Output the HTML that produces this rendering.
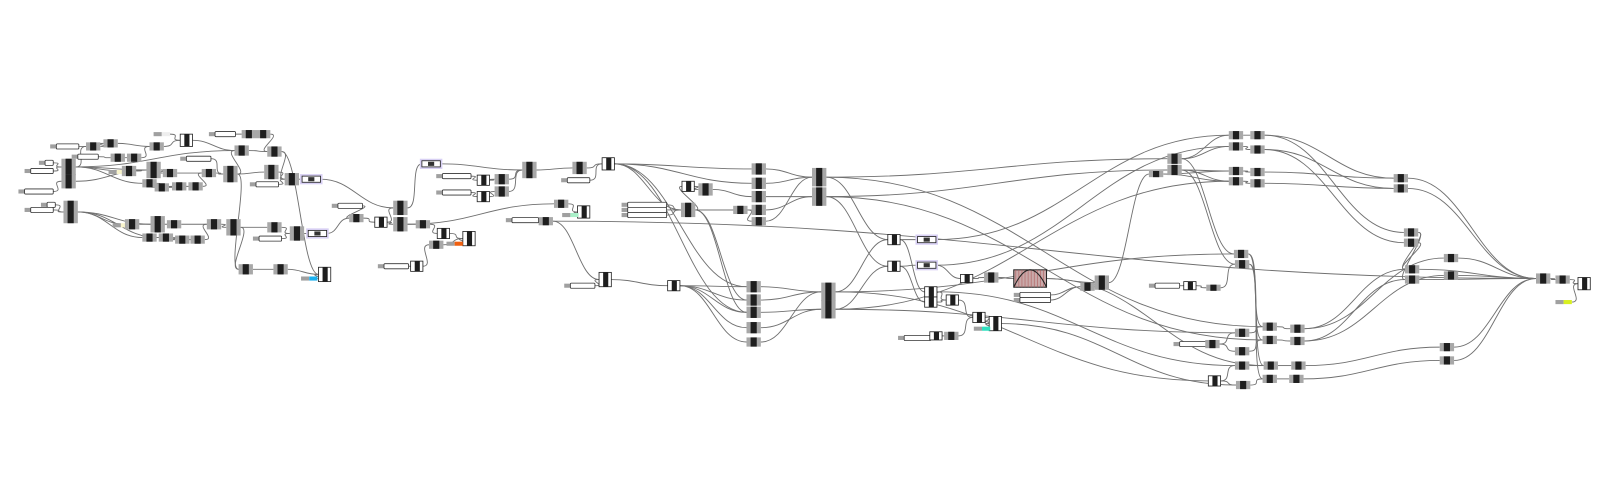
<!DOCTYPE html>
<html><head><meta charset="utf-8"><style>
html,body{margin:0;padding:0;background:#fff;width:1604px;height:501px;overflow:hidden;font-family:"Liberation Sans",sans-serif}
svg{display:block}
</style></head><body>
<svg id="g" width="1604" height="501" viewBox="0 0 1604 501" xmlns="http://www.w3.org/2000/svg">
<g transform="scale(1.024)">
<g id="wires" fill="none" stroke="#707070" stroke-width="0.9"></g>
<g id="nodes"></g>
</g>
</svg>
<script>
// nodes: [id, x(left), y(center), kind, height, extra]
const nodeList = [
["a0",150,131,"k",4,"#eeeeee"],["a1",49,143,"s",4,22],["a2",84,143,"c",8],["a3",101,140,"c",8],["a4",146,143,"c",8],["a5",176,137,"w",12],
["b1",70,153,"s",4,20],["b2",108,154,"c",8],["b3",124,154,"c",8],
["c0",38,159,"s",4,8],["c1",60,163,"c",16],["c2",60,177,"c",14],
["d1",24,167,"s",4,22],["dy",106,168,"k",4,"#f8f4cc"],["d2",119,167,"c",10],["d3",143,166,"c",16],["d4",159,169,"c",8],
["e1",139,179,"c",8],["e2",151,183,"c",8],["e3",168,182,"c",8],["e4",184,182,"c",8],["e5",18,187,"s",4,28],
["f1",197,169,"c",8],["f2",218,170,"c",16],["f3",258,168,"c",14],["f4",278,175,"c",12],["f5",295,175,"p",6],
["f6",176,155,"s",4,24],["f7",244,180,"s",4,22],
["t1",204,131,"s",4,20],["t2",236,131,"c",8],["t3",250,131,"c",8],["t6",229,147,"c",10],["t7",261,148,"c",10],
["g0",40,200,"s",4,8],["g1",24,205,"s",4,22],["g2",62,207,"c",22],
["gy",110,220,"k",4,"#f8f4cc"],["h1",122,219,"c",10],["h2",147,219,"c",16],["h3",163,219,"c",8],
["h4",139,232,"c",8],["h5",155,232,"c",8],["h6",171,234,"c",8],["h7",186,234,"c",8],
["h8",202,219,"c",10],["h9",221,222,"c",16],["i1",261,222,"c",10],["i2",283,228,"c",14],["i3",301,228,"p",6],["i4",247,233,"s",4,22],
["j1",233,263,"c",10],["j2",267,263,"c",10],["j3",311,268,"w",14],["j4",294,272,"k",4,"#1ab0ef"],
["m0",412,160,"p",6],["m1",324,201,"s",4,24],["m2",341,213,"c",8],["m3",366,217,"w",10],["m4",384,203,"c",14],["m5",384,219,"c",14],
["m6",406,219,"c",8],["m7",427,228,"w",10],["m8",452,233,"w",14],["m9",419,239,"c",8],["m10",436,238,"k",4,"#f06010"],
["k1",426,172,"s",4,28],["k2",466,176,"w",10],["k3",483,175,"c",10],["k4",426,188,"s",4,28],["k5",466,192,"w",10],["k6",483,187,"c",10],["k7",510,166,"c",16],
["n1",369,260,"s",4,24],["n2",401,260,"w",10],
["n3",559,164,"c",12],["n4",588,160,"w",12],["n5",548,176,"s",4,22],["n6",541,199,"c",8],["n7",564,207,"w",12],["n8",549,210,"k",4,"#a8f0c8"],
["n9",526,216,"c",8],["n10",494,215,"s",4,26],["o1",585,273,"w",14],["o2",551,279,"s",4,24],
["q1",666,182,"w",10],["q2",682,185,"c",12],["q3",607,200,"s",4,38],["q4",607,205,"s",4,38],["q5",607,210,"s",4,38],["q6",665,205,"c",14],["q7",716,205,"c",8],
["p1",734,165,"c",11],["p2",734,179,"c",11],["p3",734,192,"c",11],["p4",734,205,"c",10],["p5",734,216,"c",8],["p6",793,173,"c",18],["p7",793,192,"c",18],
["o3",652,279,"w",10],["s1",729,280,"c",11],["s2",729,293,"c",11],["s3",729,305,"c",11],["s4",729,320,"c",11],["s5",729,334,"c",9],["s6",802,285,"c",18],["s7",802,302,"c",18],
["u1",867,234,"w",10],["u2",896,234,"p",6],["u3",867,260,"w",10],["u4",896,259,"p",6],
["u5",938,272,"w",8],["u6",961,271,"c",10],["gr",990,272,"g",17],
["u7",990,288,"s",4,30],["u8",990,293,"s",4,30],
["u9",903,285,"w",10],["u10",903,295,"w",10],["u11",924,293,"w",10],
["u12",950,310,"w",10],["u13",966,316,"w",14],["u14",951,321,"k",4,"#30e0c0"],
["u15",877,330,"s",4,26],["u16",908,328,"w",8],["u17",922,328,"c",8],
["u18",1055,280,"c",8],["u19",1069,276,"c",14],
["r1",1200,132,"c",8],["r2",1221,132,"c",8],["r3",1200,143,"c",8],["r4",1221,146,"c",8],["r5",1140,155,"c",10],["r6",1140,166,"c",10],["r7",1122,170,"c",6],
["r8",1200,167,"c",8],["r9",1221,168,"c",8],["r10",1200,177,"c",8],["r11",1221,179,"c",8],
["r12",1361,174,"c",8],["r13",1361,184,"c",8],["r14",1371,227,"c",8],["r15",1371,237,"c",8],
["r16",1205,248,"c",8],["r17",1206,258,"c",8],["r18",1372,263,"c",8],["r19",1372,273,"c",8],["r20",1410,252,"c",8],["r21",1410,269,"c",8],
["r22",1500,272,"c",10],["r23",1519,273,"c",8],["r24",1541,277,"w",12],["r25",1519,295,"k",4,"#d8f020"],
["r26",1122,279,"s",4,24],["r27",1156,279,"w",8],["r28",1178,281,"c",6],
["w1",1146,336,"s",4,26],["w2",1177,336,"c",8],["w3",1180,372,"w",10],
["w4",1206,325,"c",8],["w5",1206,343,"c",8],["w6",1206,357,"c",8],["w7",1207,376,"c",8],
["w8",1233,319,"c",8],["w9",1260,321,"c",8],["w10",1233,332,"c",8],["w11",1260,333,"c",8],
["w12",1234,357,"c",8],["w13",1261,357,"c",8],["w14",1233,370,"c",8],["w15",1259,370,"c",8],
["w16",1406,339,"c",8],["w17",1406,352,"c",8]
];
const edgeList = [
["a1","a2"],["a2","a3"],["a3","a4"],["a4","a5"],["a0","a5"],["b1","b2"],["b2","b3"],["b3","a4"],
["c0","c1"],["d1","c1"],["c1","d2"],["dy","d2"],["d2","d3"],["d3","d4"],["c1","e1"],["e1","e2"],["e2","e3"],["e3","e4"],
["d4","f1"],["e4","f1"],["f1","f2"],["f2","f3"],["f3","f4"],["f4","f5"],["f6","f2"],["f7","f4"],["c1","a2"],["c2","d3"],["e5","c2"],["c1","d3"],
["t1","t2"],["t2","t3"],["t3","t7"],["f2","t6"],["t6","t7"],["t7","f4"],["a5","t6"],
["g0","g2"],["g1","g2"],["g2","h1"],["gy","h1"],["h1","h2"],["h2","h3"],["g2","h4"],["h4","h5"],["h5","h6"],["h6","h7"],["g2","h2"],["g2","h5"],
["h3","h8"],["h7","h8"],["h8","h9"],["h9","i1"],["i1","i2"],["i4","i2"],["i2","i3"],["h9","j1"],["j1","j2"],["j2","j3"],["j4","j3"],["f2","j1"],["t7","j3"],["c1","t6"],
["f5","m4"],["i3","m2"],["m1","m2"],["m2","m3"],["m3","m4"],["m3","m5"],["m5","m6"],["m6","m7"],["m7","m8"],["m10","m8"],["n2","m9"],["n1","n2"],["m9","m8"],
["m0","k7"],["k1","k2"],["k2","k3"],["k3","k7"],["k4","k5"],["k5","k6"],["k6","k7"],["m4","m0"],
["n10","n9"],["n9","o1"],["o2","o1"],["n3","n4"],["n5","n4"],["n6","n7"],["n8","n7"],["k7","n3"],["m5","n6"],
["n4","p1"],["n4","p2"],["n4","q6"],["n4","s1"],["n4","s3"],["q1","q2"],["q2","p3"],["q3","q6"],["q4","q6"],["q5","q6"],["q6","p4"],["q6","s2"],["q6","s3"],["q6","q7"],["q7","p5"],["q6","q1"],
["p1","p6"],["p2","p6"],["p3","p7"],["p4","p7"],["p5","p6"],["o1","o3"],["o3","s1"],["o3","s2"],["o3","s3"],["o3","s4"],["o3","s5"],
["s1","s6"],["s2","s6"],["s3","s7"],["s4","s7"],["s5","s6"],["s6","u1"],["s7","u3"],["p6","u1"],["p7","u3"],["n9","r22"],
["u1","u2"],["u3","u4"],["u1","u9"],["u3","u10"],["u9","u11"],["u10","u11"],["u4","u5"],["u5","u6"],["u6","gr"],["u11","u12"],["u12","u13"],["u14","u13"],
["u15","u16"],["u16","u17"],["u17","u12"],["gr","u19"],["u7","u18"],["u8","u18"],["u18","u19"],["u19","r7"],["r7","r8"],["r7","r10"],
["r5","r1"],["r5","r3"],["r6","r8"],["r6","r10"],["r5","r16"],["r6","r17"],["p6","r5"],["p7","r6"],["u2","r1"],["u4","r3"],["s7","r10"],["p6","w8"],["p7","w10"],["s6","r16"],
["r1","r2"],["r3","r4"],["r8","r9"],["r10","r11"],["r2","r14"],["r4","r15"],["r9","r12"],["r11","r13"],["r2","r12"],["r4","r13"],
["r12","r22"],["r13","r22"],["r14","r18"],["r14","r19"],["r15","r18"],["r20","r22"],["r21","r22"],["r18","r22"],["r19","r22"],["r22","r23"],["r23","r24"],["r25","r24"],
["r16","w8"],["r17","w10"],["r16","w12"],["r17","w14"],["r26","r27"],["r27","r28"],["r28","r17"],
["w1","w2"],["w2","w4"],["w2","w5"],["w3","w6"],["w3","w7"],["w4","w8"],["w5","w10"],["w6","w12"],["w7","w14"],["w8","w9"],["w10","w11"],["w12","w13"],["w14","w15"],
["w9","r20"],["w11","r21"],["w13","w16"],["w15","w17"],["w16","r22"],["w17","r22"],["s7","w4"],["s6","w3"],["u9","w6"],["gr","w12"],["u13","w7"],["w9","r18"],["w11","r19"]
];

const NS="http://www.w3.org/2000/svg";
const W=document.getElementById('wires'),N=document.getElementById('nodes');
const nodes={};
nodeList.forEach(n=>{nodes[n[0]]={x:n[1],y:n[2],k:n[3],h:n[4],e:n[5]};});
function mk(t,a,p){const e=document.createElementNS(NS,t);for(const k in a)e.setAttribute(k,a[k]);p.appendChild(e);return e;}
function wd(n){if(n.k==='s')return 6+n.e;if(n.k==='p')return 18;if(n.k==='g')return 32;if(n.k==='k')return 16;if(n.k==='w')return 12;return 14;}
edgeList.forEach(([f,t])=>{
  const a=nodes[f],b=nodes[t];if(!a||!b)return;
  const sx=a.x+wd(a),sy=a.y,tx=b.x,ty=b.y;
  let dx=Math.max(12,Math.abs(tx-sx)*0.45);
  const p=mk('path',{d:`M${sx},${sy} C${sx+dx},${sy} ${tx-dx},${ty} ${tx},${ty}`},W);
  
  
});
nodeList.forEach(r=>{
  const n=nodes[r[0]],w=wd(n),h=n.h,x=n.x,y=n.y-h/2;
  const g=mk('g',{},N);
  
  
  if(n.k==='s'){mk('rect',{x:x,y:n.y-2,width:6,height:4,fill:'#a0a0a0'},g);mk('rect',{x:x+6,y:n.y-2.5,width:w-6,height:5,fill:'#fff',stroke:'#333','stroke-width':0.8,rx:1},g);}
  else if(n.k==='c'){mk('rect',{x:x,y:y,width:w,height:h,fill:'#a8a8a8'},g);mk('rect',{x:x+4,y:y,width:6,height:h,fill:'#1e1e1e'},g);}
  else if(n.k==='w'){mk('rect',{x:x,y:y,width:w,height:h,fill:'#fff',stroke:'#222','stroke-width':0.8},g);mk('rect',{x:x+4,y:y,width:5,height:h,fill:'#1e1e1e'},g);}
  else if(n.k==='p'){mk('rect',{x:x-2,y:y-2,width:w+4,height:h+4,fill:'#d8d0f4'},g);mk('rect',{x:x,y:y,width:w,height:h,fill:'#fff',stroke:'#222','stroke-width':0.8},g);mk('rect',{x:x+6,y:y+1,width:6,height:h-2,fill:'#333'},g);}
  else if(n.k==='k'){mk('rect',{x:x,y:y,width:8,height:h,fill:'#a0a0a0'},g);mk('rect',{x:x+8,y:y,width:8,height:h,fill:n.e},g);}
  else if(n.k==='g'){mk('rect',{x:x,y:y,width:w,height:h,fill:'#c9a9a9',stroke:'#222'},g);
    for(let k=2;k<w;k+=3)mk('line',{x1:x+k,y1:y,x2:x+k,y2:y+h,stroke:'#b06060','stroke-width':0.6},g);
    mk('path',{d:`M${x},${y+h} Q${x+w/2},${y-h} ${x+w},${y+h}`,fill:'none',stroke:'#222'},g);}
});
</script>
</body></html>
